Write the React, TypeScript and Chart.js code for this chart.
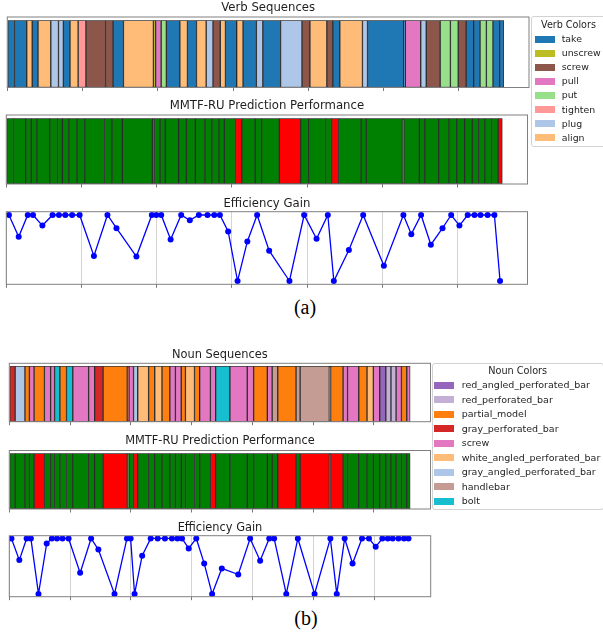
import React, { useEffect, useRef } from 'react';
import { Chart, registerables } from 'chart.js';

Chart.register(...registerables);

// ---------- data ----------
// shared time segmentation (seconds-like units) of the sequence
const segmentEdges = [
  0, 0.96, 2.58, 3.31, 4.08, 5.78, 6.8, 7.45, 8.33, 9.41, 10.45, 13.05, 14.05, 15.43, 19.41, 19.7,
  20.44, 21.13, 22.92, 23.93, 25.13, 26.42, 27.33, 28.29, 28.98, 30.47, 31.32, 33.09, 33.95, 36.3,
  39.15, 40.2, 42.45, 43.25, 44.17, 47.18, 47.85, 52.65, 52.87, 54.92, 55.65, 57.5, 58.86, 59.9,
  60.95, 61.95, 62.8, 63.64, 64.52, 65.4, 65.95,
];

const verbSequence = [
  'take', 'take', 'align', 'take', 'align', 'plug', 'plug', 'take', 'align', 'tighten',
  'screw', 'screw', 'take', 'align', 'unscrew', 'pull', 'put', 'take', 'align', 'take',
  'align', 'plug', 'screw', 'align', 'take', 'align', 'take', 'plug', 'take', 'plug',
  'screw', 'align', 'screw', 'take', 'align', 'plug', 'take', 'take', 'pull', 'plug',
  'screw', 'put', 'put', 'screw', 'take', 'take', 'put', 'put', 'take', 'take',
];
const verbCorrect = [
  1, 1, 1, 1, 1, 1, 1, 1, 1, 1,
  1, 1, 1, 1, 1, 1, 1, 1, 1, 1,
  1, 1, 1, 1, 1, 0, 1, 1, 1, 0,
  1, 1, 1, 0, 1, 1, 1, 1, 1, 1,
  1, 1, 1, 1, 1, 1, 1, 1, 1, 0,
];

const nounSequence = [
  'gray_perforated_bar', 'gray_angled_perforated_bar', 'partial_model', 'screw', 'partial_model',
  'screw', 'screw', 'bolt', 'partial_model', 'bolt',
  'screw', 'screw', 'gray_perforated_bar', 'partial_model', 'gray_perforated_bar',
  'screw', 'gray_angled_perforated_bar', 'white_angled_perforated_bar', 'partial_model', 'white_angled_perforated_bar',
  'partial_model', 'screw', 'screw', 'partial_model', 'white_angled_perforated_bar',
  'partial_model', 'screw', 'screw', 'bolt', 'screw',
  'screw', 'partial_model', 'screw', 'handlebar', 'partial_model',
  'handlebar', 'handlebar', 'handlebar', 'partial_model', 'screw',
  'screw', 'partial_model', 'white_angled_perforated_bar', 'screw', 'red_angled_perforated_bar',
  'red_perforated_bar', 'red_perforated_bar', 'screw', 'partial_model', 'screw',
];
const nounCorrect = [
  1, 1, 1, 1, 0, 1, 1, 1, 1, 1,
  1, 1, 1, 0, 1, 1, 0, 1, 1, 1,
  1, 1, 1, 1, 1, 1, 1, 0, 1, 1,
  1, 1, 1, 1, 0, 1, 0, 0, 0, 1,
  1, 1, 1, 1, 1, 1, 1, 1, 1, 1,
];

const efficiencyX = [
  0.35, 1.65, 2.85, 3.55, 4.8, 6.15, 7.0, 7.85, 8.75, 9.75,
  11.65, 13.45, 14.65, 17.3, 19.35, 19.95, 20.6, 21.85, 23.25, 24.4,
  25.6, 26.75, 27.65, 28.4, 29.5, 30.75, 32.05, 33.35, 34.95, 37.65,
  39.6, 41.25, 42.75, 43.55, 45.55, 47.45, 50.2, 52.8, 53.85, 55.15,
  56.45, 58.0, 59.15, 60.25, 61.35, 62.25, 63.05, 64.0, 64.9, 65.65,
];
const verbEfficiency = [
  1, 0.67, 1, 1, 0.84, 1, 1, 1, 1, 1,
  0.38, 1, 0.8, 0.37, 1, 1, 1, 0.63, 1, 0.92,
  1, 1, 1, 1, 0.75, 0, 0.6, 1, 0.46, 0,
  1, 0.64, 1, 0, 0.47, 1, 0.23, 1, 0.71, 1,
  0.55, 0.8, 1, 0.84, 1, 1, 1, 1, 1, 0,
];
const nounEfficiency = [
  1, 0.61, 1, 1, 0, 0.91, 1, 1, 1, 1,
  0.38, 1, 0.8, 0, 1, 1, 0, 0.69, 1, 1,
  1, 1, 1, 1, 0.82, 1, 0.55, 0, 0.46, 0.35,
  1, 0.6, 1, 1, 0, 1, 0, 1, 0, 1,
  0.55, 1, 1, 0.85, 1, 1, 1, 1, 1, 1,
];

const verbLabels = ['take', 'unscrew', 'screw', 'pull', 'put', 'tighten', 'plug', 'align'];
const verbColors = ['#1f77b4', '#bcbd22', '#8c564b', '#e377c2', '#98df8a', '#ff9896', '#aec7e8', '#ffbb78'];
const nounLabels = [
  'red_angled_perforated_bar', 'red_perforated_bar', 'partial_model', 'gray_perforated_bar', 'screw',
  'white_angled_perforated_bar', 'gray_angled_perforated_bar', 'handlebar', 'bolt',
];
const nounColors = ['#9467bd', '#c5b0d5', '#ff7f0e', '#d62728', '#e377c2', '#ffbb78', '#aec7e8', '#c49c94', '#17becf'];
const correctnessColors = { 1: '#008000', 0: '#ff0000' } as Record<number, string>;

const X_MIN = 0;
const X_MAX = 69.3;
const X_STEP = 10;

// ---------- styling ----------
const FONT = 'DejaVu Sans';
const TICK = 3.5;
const BAR_MARGIN = 0.05;
const FRAME_COLOR = '#808080';

type Kind = 'bars' | 'line';
interface Spec {
  key: string;
  title: string;
  kind: Kind;
  fl: number; fr: number; ft: number; fb: number;
  titleY: number; titleSize: number;
  segments?: string[] | number[];
  colorOf?: (v: any) => string;
  values?: number[];
}

const verbColorMap: Record<string, string> = Object.fromEntries(verbLabels.map((l, i) => [l, verbColors[i]]));
const nounColorMap: Record<string, string> = Object.fromEntries(nounLabels.map((l, i) => [l, nounColors[i]]));

const specs: Spec[] = [
  { key: 'vs', title: 'Verb Sequences', kind: 'bars', fl: 7.3, fr: 529, ft: 17, fb: 87.5, titleY: 8.3, titleSize: 11.7,
    segments: verbSequence, colorOf: (v) => verbColorMap[v] },
  { key: 'vp', title: 'MMTF-RU Prediction Performance', kind: 'bars', fl: 6.3, fr: 527.5, ft: 115, fb: 184, titleY: 105.8, titleSize: 11.7,
    segments: verbCorrect, colorOf: (v) => correctnessColors[v] },
  { key: 've', title: 'Efficiency Gain', kind: 'line', fl: 6.3, fr: 527.5, ft: 211.7, fb: 284.3, titleY: 203.7, titleSize: 11.7,
    values: verbEfficiency },
  { key: 'ns', title: 'Noun Sequences', kind: 'bars', fl: 9.3, fr: 430.5, ft: 363.3, fb: 421.7, titleY: 354.8, titleSize: 11.4,
    segments: nounSequence, colorOf: (v) => nounColorMap[v] },
  { key: 'np', title: 'MMTF-RU Prediction Performance', kind: 'bars', fl: 9.3, fr: 430.5, ft: 450.5, fb: 509, titleY: 441.2, titleSize: 11.4,
    segments: nounCorrect, colorOf: (v) => correctnessColors[v] },
  { key: 'ne', title: 'Efficiency Gain', kind: 'line', fl: 9.3, fr: 430.7, ft: 535.7, fb: 596.7, titleY: 527.8, titleSize: 11.4,
    values: nounEfficiency },
];

function geometry(s: Spec) {
  const ctop = Math.floor(s.titleY - 9);
  const cw = Math.ceil(s.fr + 3);
  const ch = Math.ceil(s.fb + TICK + 2 - ctop);
  const areaTop = s.kind === 'line' ? s.ft : s.ft + (s.fb - s.ft) * (BAR_MARGIN / (1 + BAR_MARGIN));
  const lineH = s.titleSize * 1.2;
  const padTop = s.titleY - ctop - lineH / 2;
  const padBottom = Math.max(0, areaTop - ctop - padTop - lineH);
  const layoutPad = { left: s.fl, right: cw - s.fr, top: 0, bottom: ch - (s.fb - ctop) - TICK };
  return { ctop, cw, ch, padTop, padBottom, layoutPad };
}

function framePlugin(gapFrac: number) {
  return {
    id: 'frame',
    afterDraw(chart: any) {
      const { ctx, chartArea: a } = chart;
      const gap = (a.bottom - a.top) * gapFrac;
      ctx.save();
      ctx.strokeStyle = FRAME_COLOR;
      ctx.lineWidth = 1;
      ctx.strokeRect(a.left, a.top - gap, a.right - a.left, a.bottom - a.top + gap);
      ctx.restore();
    },
  };
}

function buildConfig(s: Spec): any {
  const g = geometry(s);
  const xScale = {
    type: 'linear',
    min: X_MIN,
    max: X_MAX,
    border: { display: false },
    grid: {
      drawOnChartArea: s.kind === 'line',
      drawTicks: true,
      tickLength: TICK,
      color: '#d4d4d4',
      tickColor: '#7a7a7a',
      lineWidth: 1,
    },
    ticks: { display: false, stepSize: X_STEP, includeBounds: false },
  };
  const common = {
    animation: false,
    responsive: false,
    devicePixelRatio: 1,
    events: [],
    layout: { padding: g.layoutPad, autoPadding: false },
    plugins: {
      legend: { display: false },
      tooltip: { enabled: false },
      title: {
        display: true,
        text: s.title,
        color: '#1e1e1e',
        font: { family: FONT, size: s.titleSize, weight: 'normal', lineHeight: 1.2 },
        padding: { top: g.padTop, bottom: g.padBottom },
      },
    },
  };
  if (s.kind === 'bars') {
    const segs = s.segments as any[];
    return {
      type: 'bar',
      data: {
        labels: ['row'],
        datasets: [{
          data: segs.map((v, i) => ({ x: [segmentEdges[i], segmentEdges[i + 1]], y: 'row' })),
          backgroundColor: segs.map((v) => s.colorOf!(v)),
          borderColor: 'rgba(20,20,20,0.85)',
          borderWidth: 1,
          borderSkipped: false,
          barPercentage: 1,
          categoryPercentage: 1,
        }],
      },
      options: {
        ...common,
        indexAxis: 'y',
        scales: {
          x: xScale,
          y: { type: 'category', display: false },
        },
      },
      plugins: [framePlugin(BAR_MARGIN)],
    };
  }
  return {
    type: 'line',
    data: {
      datasets: [{
        data: efficiencyX.map((x, i) => ({ x, y: s.values![i] })),
        borderColor: '#0000ff',
        backgroundColor: '#0000ff',
        borderWidth: 1.3,
        pointRadius: 3,
        pointBorderWidth: 0,
        pointBackgroundColor: '#0000ff',
        tension: 0,
        fill: false,
      }],
    },
    options: {
      ...common,
      scales: {
        x: xScale,
        y: { type: 'linear', min: -0.05, max: 1.05, display: false },
      },
    },
    plugins: [framePlugin(0)],
  };
}

function ChartBox({ spec }: { spec: Spec }) {
  const ref = useRef<HTMLCanvasElement>(null);
  const g = geometry(spec);
  useEffect(() => {
    const chart = new Chart(ref.current as HTMLCanvasElement, buildConfig(spec));
    return () => chart.destroy();
  }, []);
  return (
    <canvas
      ref={ref}
      width={g.cw}
      height={g.ch}
      style={{ position: 'absolute', left: 0, top: g.ctop, width: g.cw, height: g.ch }}
    />
  );
}

interface LegendProps {
  title: string;
  labels: string[];
  colors: string[];
  left: number; top: number; width: number; height: number;
  titleY: number; firstY: number; step: number;
  swatchX: number; textX: number; size: number;
}

function Legend(p: LegendProps) {
  const lh = 14;
  return (
    <>
      <div
        style={{
          position: 'absolute', left: p.left, top: p.top, width: p.width, height: p.height,
          border: '1px solid #d2d2d2', borderRadius: 3, background: '#fff', boxSizing: 'border-box',
        }}
      />
      <div
        style={{
          position: 'absolute', left: p.left, width: p.width, top: p.titleY - lh / 2, height: lh,
          lineHeight: `${lh}px`, textAlign: 'center', fontFamily: FONT, fontSize: p.size + 0.2, color: '#1e1e1e',
          whiteSpace: 'nowrap',
        }}
      >
        {p.title}
      </div>
      {p.labels.map((l, i) => {
        const cy = p.firstY + i * p.step;
        return (
          <React.Fragment key={l}>
            <div style={{ position: 'absolute', left: p.swatchX, top: cy - 3.5, width: 20, height: 7, background: p.colors[i] }} />
            <div
              style={{
                position: 'absolute', left: p.textX, top: cy - lh / 2, height: lh, lineHeight: `${lh}px`,
                fontFamily: FONT, fontSize: p.size, color: '#1e1e1e', whiteSpace: 'nowrap',
              }}
            >
              {l}
            </div>
          </React.Fragment>
        );
      })}
    </>
  );
}

function PanelLabel({ text, cx, cy }: { text: string; cx: number; cy: number }) {
  const lh = 24;
  return (
    <div
      style={{
        position: 'absolute', left: cx - 40, width: 80, top: cy - lh / 2 - 2, height: lh, lineHeight: `${lh}px`,
        textAlign: 'center', fontFamily: 'Liberation Serif', fontSize: 20, color: '#000',
      }}
    >
      {text}
    </div>
  );
}

export default function App() {
  return (
    <div
      style={{
        position: 'absolute', left: 0, top: 0, width: 603, height: 635, overflow: 'hidden', background: '#fff',
      }}
    >
      {specs.map((s) => <ChartBox key={s.key} spec={s} />)}
      <Legend
        title="Verb Colors" labels={verbLabels} colors={verbColors}
        left={531} top={16.3} width={75} height={130.5}
        titleY={25} firstY={39.2} step={14.06} swatchX={535} textX={561.7} size={9.4}
      />
      <Legend
        title="Noun Colors" labels={nounLabels} colors={nounColors}
        left={431.7} top={362.7} width={172} height={147.3}
        titleY={370.7} firstY={385.2} step={14.5} swatchX={434} textX={461.7} size={9.5}
      />
      <PanelLabel text="(a)" cx={305} cy={308.5} />
      <PanelLabel text="(b)" cx={306} cy={620} />
    </div>
  );
}
